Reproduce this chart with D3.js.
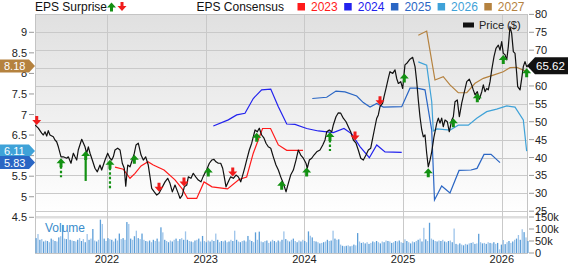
<!DOCTYPE html>
<html>
<head>
<meta charset="utf-8">
<script src="https://cdn.jsdelivr.net/npm/d3@7"></script>
<style>
  body { margin: 0; background: #fff; }
  svg { display: block; font-family: Arial, "Liberation Sans", sans-serif; }
</style>
</head>
<body>
<svg id="chart" width="568" height="264"></svg>
<script>
// ---- data (dates are decimal years) ----
const priceDates = [
  2021.271,2021.304,2021.338,2021.355,2021.372,2021.389,2021.405,2021.422,2021.456,2021.473,
  2021.490,2021.507,2021.534,2021.557,2021.592,2021.608,2021.635,2021.659,2021.676,2021.693,
  2021.709,2021.744,2021.777,2021.794,2021.811,2021.828,2021.851,2021.878,2021.902,2021.929,
  2021.946,2021.963,2021.980,2022.007,2022.030,2022.048,2022.064,2022.081,2022.108,2022.132,
  2022.155,2022.175,2022.190,2022.210,2022.233,2022.256,2022.277,2022.294,2022.317,2022.345,
  2022.368,2022.392,2022.418,2022.436,2022.453,2022.479,2022.504,2022.527,2022.554,2022.588,
  2022.615,2022.638,2022.662,2022.689,2022.716,2022.740,2022.763,2022.783,2022.808,2022.824,
  2022.851,2022.874,2022.899,2022.925,2022.952,2022.976,2023.009,2023.037,2023.061,2023.084,
  2023.104,2023.128,2023.152,2023.172,2023.185,2023.206,2023.229,2023.253,2023.280,2023.307,
  2023.330,2023.355,2023.375,2023.398,2023.415,2023.442,2023.466,2023.482,2023.500,2023.523,
  2023.543,2023.567,2023.591,2023.611,2023.634,2023.659,2023.685,2023.712,2023.736,2023.760,
  2023.786,2023.814,2023.837,2023.861,2023.888,2023.915,2023.938,2023.963,2023.989,2024.016,
  2024.029,2024.050,2024.074,2024.097,2024.125,2024.158,2024.186,2024.209,2024.226,2024.252,
  2024.277,2024.293,2024.320,2024.344,2024.368,2024.394,2024.422,2024.445,2024.469,2024.496,
  2024.523,2024.546,2024.571,2024.597,2024.624,2024.648,2024.672,2024.692,2024.715,2024.733,
  2024.749,2024.766,2024.793,2024.807,2024.827,2024.850,2024.867,2024.895,2024.918,2024.935,
  2024.952,2024.976,2024.996,2025.019,2025.043,2025.070,2025.097,2025.121,2025.138,2025.154,
  2025.171,2025.189,2025.205,2025.222,2025.239,2025.255,2025.273,2025.290,2025.313,2025.341,
  2025.357,2025.374,2025.391,2025.407,2025.425,2025.448,2025.468,2025.493,2025.509,2025.526,
  2025.549,2025.570,2025.594,2025.617,2025.645,2025.671,2025.695,2025.711,2025.729,2025.752,
  2025.772,2025.797,2025.813,2025.830,2025.847,2025.863,2025.881,2025.898,2025.921,2025.941,
  2025.965,2025.982,2025.999,2026.015,2026.033,2026.050,2026.066,2026.083,2026.100,2026.117,
  2026.134,2026.151,2026.161,2026.185,2026.202,2026.218,2026.235,2026.252,2026.265
];
const priceValues = [
  49.1,48.2,46.8,46.3,47.2,46.0,47.5,46.3,45.8,44.9,
  44.4,43.0,40.2,40.2,39.8,40.2,38.4,41.2,40.2,39.3,
  42.1,45.1,43.0,41.2,43.0,41.2,39.3,37.0,36.0,37.9,
  36.5,37.9,39.3,41.2,39.8,39.3,40.2,42.1,42.6,42.1,
  38.4,37.0,32.0,37.9,37.4,39.3,41.2,43.5,44.0,40.7,
  39.3,40.2,37.9,34.6,31.4,30.4,29.5,30.0,31.4,33.2,
  34.2,32.8,30.4,32.3,30.4,28.6,29.5,31.8,32.3,34.6,
  34.2,35.6,34.6,33.7,33.2,34.8,36.5,38.4,39.3,39.5,
  38.8,38.4,38.4,37.0,35.1,31.8,33.2,34.6,34.2,35.1,
  34.6,33.2,35.1,37.4,39.3,42.1,44.0,45.8,47.7,47.2,
  48.2,46.3,45.4,44.0,43.0,42.6,40.2,37.9,36.5,34.6,
  32.8,30.4,32.8,35.1,36.5,39.3,42.1,40.7,39.8,38.4,
  37.0,39.3,39.8,40.7,41.6,42.1,43.5,44.9,47.2,47.7,
  47.2,49.1,51.4,52.5,52.4,51.0,50.0,48.6,47.2,44.9,
  44.0,42.1,39.8,39.3,40.7,42.1,42.6,45.4,48.6,51.0,
  51.9,54.2,55.2,57.0,59.3,62.1,64.0,63.5,64.5,62.1,
  60.7,61.2,59.3,65.9,66.5,67.5,68.0,65.4,61.2,56.1,
  51.4,47.7,45.8,46.3,41.2,37.4,39.3,41.6,45.8,49.6,
  51.0,49.6,51.0,48.6,50.5,50.0,47.2,50.5,51.4,55.6,
  56.1,51.4,55.2,57.9,61.2,61.9,60.3,58.9,57.5,58.4,
  56.3,58.4,60.3,58.4,59.3,58.9,61.2,64.5,68.2,70.5,
  71.4,70.0,72.4,69.1,68.7,67.3,71.0,76.6,74.7,69.6,
  69.1,63.5,59.8,58.9,62.1,65.4,66.8,65.4,65.62
];

const eps2023Dates = [2022.081,2022.165,2022.233,2022.284,2022.345,2022.415,2022.469,2022.578,2022.689,2022.760,2022.816,2022.909,2022.983,2023.064,2023.221,2023.337,2023.415,2023.482,2023.576,2023.657,2023.736,2023.821,2023.986];
const eps2023 = [5.72,5.67,5.45,5.57,5.75,5.85,5.77,5.65,5.41,5.20,4.96,4.96,5.36,5.24,5.19,5.42,5.48,6.06,6.66,6.66,6.26,6.13,6.13];
const eps2024Dates = [2023.077,2023.229,2023.314,2023.398,2023.482,2023.567,2023.659,2023.736,2023.821,2023.905,2024.023,2024.141,2024.293,2024.401,2024.479,2024.563,2024.658,2024.733,2024.817,2024.986];
const eps2024 = [6.72,6.87,6.99,7.03,7.39,7.60,7.62,7.19,6.77,6.76,6.66,6.60,6.56,6.66,6.53,6.22,5.95,6.26,6.09,6.08];
const eps2025Dates = [2024.080,2024.226,2024.320,2024.411,2024.530,2024.597,2024.665,2024.733,2024.800,2024.986,2025.070,2025.141,2025.222,2025.290,2025.318,2025.391,2025.475,2025.567,2025.688,2025.749,2025.820,2025.891,2025.982];
const eps2025 = [7.39,7.42,7.57,7.55,7.45,7.29,7.18,7.27,7.18,7.19,7.64,7.64,7.60,6.62,4.92,5.26,5.09,5.64,5.65,5.69,6.03,6.03,5.83];
const eps2026Dates = [2025.154,2025.239,2025.290,2025.306,2025.344,2025.475,2025.559,2025.661,2025.746,2025.847,2025.948,2026.050,2026.134,2026.218,2026.252];
const eps2026 = [8.28,8.20,7.31,6.60,6.65,6.62,6.74,6.74,6.91,7.07,7.13,7.21,7.18,6.87,6.11];
const eps2027Dates = [2025.154,2025.239,2025.323,2025.407,2025.475,2025.559,2025.645,2025.729,2025.813,2025.914,2026.015,2026.083,2026.151,2026.218,2026.252];
const eps2027 = [8.93,9.03,7.84,7.92,7.72,7.53,7.53,7.76,7.88,7.96,8.04,8.14,8.15,8.08,8.04];

const consensusYears = ['2023', '2024', '2025', '2026', '2027'];
const consensusColors = ['#ff1a1a', '#2222ee', '#2a66c4', '#3fa2d8', '#b5823f'];
const lastEps = [8.18, 6.11, 5.83];
const lastEpsColors = ['#b5823f', '#3fa2d8', '#2a66c4'];

// earnings surprises: direction (+1 beat / -1 miss), size of the beat, stem style
const surpriseDates = [2021.288,2021.534,2021.784,2022.030,2022.277,2022.527,2022.780,2023.026,2023.274,2023.517,2023.770,2024.023,2024.259,2024.513,2024.766,2025.012,2025.255,2025.509,2025.752,2026.015,2026.252];
const surpriseDir = [-1,1,1,1,1,-1,-1,1,-1,1,1,1,1,-1,-1,1,1,1,1,1,1];
const surpriseSize = [0,14,25,25,0,0,0,0,0,0,0,0,14,0,0,0,0,0,0,0,0];
const surpriseStem = ['','dash','solid','dash','','','','','','','','','dash','','','','','','','',''];

const volumeStart = 2021.275;
const volumes = [
  62,79,55,58,48,52,50,45,60,55, 50,48,65,70,117,60,58,89,55,52,
  50,48,55,62,50,58,45,79,55,60, 100,52,48,55,139,121,60,50,62,58,
  55,48,60,52,81,58,62,55,129,121, 60,55,70,93,62,58,81,55,50,48,
  52,45,55,50,60,48,107,86,55,50, 45,52,48,55,60,50,58,62,55,90,
  55,50,48,45,52,55,60,48,71,50, 45,52,48,55,50,81,55,45,50,48,
  52,45,48,55,50,93,55,48,45,50, 52,48,71,55,50,45,86,55,89,48,
  45,50,52,42,48,55,50,45,52,48, 55,90,58,52,48,55,60,50,45,52,
  48,55,50,45,90,72,65,50,48,45, 40,42,45,48,55,50,52,93,60,55,
  57,35,30,28,30,32,28,30,35,32, 83,48,42,45,40,45,38,42,48,45,
  50,45,40,48,45,52,50,48,42,45, 50,48,52,45,42,57,50,45,40,48,
  45,50,55,60,48,105,57,50,126,60, 55,50,48,52,50,55,48,45,50,52,
  45,102,38,35,40,35,32,38,35,40, 42,45,38,40,80,45,40,42,38,45,
  42,40,45,38,42,15,35,54,37,45, 50,42,48,55,60,75,55,99,87,65,
  50
];

const yearTicks = [2022, 2023, 2024, 2025, 2026];
const priceTicks = [25, 30, 35, 40, 45, 50, 55, 60, 65, 70, 75, 80];
const epsTicks = [4.5, 5, 5.5, 6, 6.5, 7, 7.5, 8, 8.5, 9];
const volumeTicks = [0, 50000, 100000, 150000];
const lastPrice = 65.62;

// ---- layout ----
const W = 568;
const pLeft = 35, pRight = 528, pTop = 14;
const priceBottom = 216, volTop = 218.5, volBottom = 253;
const green = '#139113', red = '#f01c1c';

const svg = d3.select('#chart');

const x = d3.scaleLinear().domain([2021.2705, 2026.2655]).range([pLeft, pRight]);
const yPrice = d3.scaleLinear().domain([25, 80]).range([211.2, 14.4]);
const yEps = d3.scaleLinear().domain([4.5, 9]).range([217.3, 32.3]);
const yVol = d3.scaleLinear().domain([0, 150000]).range([volBottom, 217]);

const defs = svg.append('defs');
const grad = defs.append('linearGradient').attr('id', 'bg')
  .attr('x1', 0).attr('y1', 0).attr('x2', 0).attr('y2', 1);
grad.append('stop').attr('offset', '0%').attr('stop-color', '#e0e0e0');
grad.append('stop').attr('offset', '100%').attr('stop-color', '#ffffff');
defs.append('clipPath').attr('id', 'clip')
  .append('rect').attr('x', pLeft).attr('y', pTop).attr('width', pRight - pLeft).attr('height', priceBottom - pTop);

// backgrounds
svg.append('rect').attr('x', pLeft).attr('y', pTop).attr('width', pRight - pLeft)
  .attr('height', priceBottom - pTop).attr('fill', 'url(#bg)');
svg.append('rect').attr('x', pLeft).attr('y', priceBottom).attr('width', pRight - pLeft)
  .attr('height', volTop - priceBottom).attr('fill', '#dedede');

// grid
svg.append('g').selectAll('line').data(priceTicks).join('line')
  .attr('x1', pLeft).attr('x2', pRight)
  .attr('y1', d => Math.round(yPrice(d)) + 0.5).attr('y2', d => Math.round(yPrice(d)) + 0.5)
  .attr('stroke', '#c9c9c9');
svg.append('g').selectAll('line').data(yearTicks).join('line')
  .attr('x1', d => Math.round(x(d)) + 0.5).attr('x2', d => Math.round(x(d)) + 0.5)
  .attr('y1', pTop).attr('y2', volBottom)
  .attr('stroke', '#c9c9c9');
svg.append('rect').attr('x', pLeft + 0.5).attr('y', pTop + 0.5)
  .attr('width', pRight - pLeft - 1).attr('height', volBottom - pTop)
  .attr('fill', 'none').attr('stroke', '#c4c4c4');

// volume bars
svg.append('g').selectAll('rect').data(volumes).join('rect')
  .attr('x', (d, i) => x(volumeStart + i / 52.18))
  .attr('y', d => yVol(d * 1000))
  .attr('width', 1.3)
  .attr('height', d => volBottom - yVol(d * 1000))
  .attr('fill', (d, i) => i % 2 ? '#9dc4ea' : '#5c9ed8');

svg.append('text').attr('x', 45).attr('y', 232).attr('font-size', 12)
  .attr('fill', '#3b8dcc').text('Volume');

// consensus lines
const plot = svg.append('g').attr('clip-path', 'url(#clip)');
const epsSeries = [
  [eps2023Dates, eps2023], [eps2024Dates, eps2024], [eps2025Dates, eps2025],
  [eps2026Dates, eps2026], [eps2027Dates, eps2027]
];
epsSeries.forEach(([dates, vals], k) => {
  plot.append('path')
    .datum(dates.map((t, i) => [t, vals[i]]))
    .attr('d', d3.line().x(d => x(d[0])).y(d => yEps(d[1])))
    .attr('fill', 'none')
    .attr('stroke', consensusColors[k])
    .attr('stroke-width', 1.2);
});

// price line
plot.append('path')
  .datum(priceDates.map((t, i) => [t, priceValues[i]]))
  .attr('d', d3.line().x(d => x(d[0])).y(d => yPrice(d[1])))
  .attr('fill', 'none')
  .attr('stroke', '#111')
  .attr('stroke-width', 1.2)
  .attr('stroke-linejoin', 'round');

// surprise arrows sit on the price line
const bisect = d3.bisector(d => d).left;
function priceAt(t) {
  const i = Math.max(1, Math.min(priceDates.length - 1, bisect(priceDates, t)));
  const t0 = priceDates[i - 1], t1 = priceDates[i];
  const k = (t - t0) / (t1 - t0);
  return priceValues[i - 1] * (1 - k) + priceValues[i] * k;
}
const stemLen = d3.scaleLinear().domain([10, 25]).range([6, 21]);

function arrowPath(cx, ty, dir) {
  // dir 1: tip at ty pointing up; dir -1: tip at ty pointing down
  const s = dir;
  return `M${cx},${ty}L${cx + 4.5},${ty + 5 * s}L${cx + 1.5},${ty + 5 * s}L${cx + 1.5},${ty + 9 * s}` +
    `L${cx - 1.5},${ty + 9 * s}L${cx - 1.5},${ty + 5 * s}L${cx - 4.5},${ty + 5 * s}Z`;
}

const arrows = svg.append('g');
surpriseDates.forEach((t, i) => {
  const cx = x(t);
  const py = yPrice(priceAt(t));
  const up = surpriseDir[i] > 0;
  const ty = up ? py + 1.5 : py - 1.5;
  if (surpriseStem[i]) {
    arrows.append('line')
      .attr('x1', cx).attr('x2', cx)
      .attr('y1', ty + 8).attr('y2', ty + 9 + stemLen(surpriseSize[i]))
      .attr('stroke', green).attr('stroke-width', 2.2)
      .attr('stroke-dasharray', surpriseStem[i] === 'dash' ? '2.5,2' : null);
  }
  arrows.append('path').attr('d', arrowPath(cx, ty, up ? 1 : -1))
    .attr('fill', up ? green : red);
});

// right price axis
const axisR = svg.append('g');
axisR.selectAll('line').data(priceTicks).join('line')
  .attr('x1', pRight + 1).attr('x2', pRight + 6)
  .attr('y1', d => yPrice(d)).attr('y2', d => yPrice(d))
  .attr('stroke', '#999');
axisR.selectAll('text').data(priceTicks).join('text')
  .attr('x', pRight + 7).attr('y', d => yPrice(d) + 4)
  .attr('font-size', 11).attr('fill', '#222')
  .text(d => d);

// volume axis
const axisV = svg.append('g');
axisV.selectAll('line').data(volumeTicks).join('line')
  .attr('x1', pRight + 1).attr('x2', pRight + 6)
  .attr('y1', d => yVol(d)).attr('y2', d => yVol(d))
  .attr('stroke', '#999');
axisV.selectAll('text').data(volumeTicks).join('text')
  .attr('x', pRight + 7).attr('y', d => yVol(d) + 4)
  .attr('font-size', 11).attr('fill', '#222')
  .text(d => d === 0 ? '0' : (d / 1000) + 'k');

// left EPS axis
const axisL = svg.append('g');
axisL.selectAll('line').data(epsTicks).join('line')
  .attr('x1', pLeft - 6).attr('x2', pLeft - 1)
  .attr('y1', d => yEps(d)).attr('y2', d => yEps(d))
  .attr('stroke', '#999');
axisL.selectAll('text').data(epsTicks).join('text')
  .attr('x', pLeft - 8).attr('y', d => yEps(d) + 4)
  .attr('text-anchor', 'end')
  .attr('font-size', 11).attr('fill', '#222')
  .text(d => d);

// year labels
svg.append('g').selectAll('text').data(yearTicks).join('text')
  .attr('x', d => x(d)).attr('y', 263)
  .attr('text-anchor', 'middle')
  .attr('font-size', 11).attr('fill', '#222')
  .text(d => d);

// last EPS tags on the left
const tags = svg.append('g');
lastEps.forEach((v, i) => {
  const cy = yEps(v);
  tags.append('path')
    .attr('d', `M0,${cy - 6.5}L29,${cy - 6.5}L35,${cy}L29,${cy + 6.5}L0,${cy + 6.5}Z`)
    .attr('fill', lastEpsColors[i]);
  tags.append('text').attr('x', 4).attr('y', cy + 4)
    .attr('font-size', 11).attr('fill', '#fff').text(v.toFixed(2));
});

// last price tag on the right
const lastY = yPrice(lastPrice);
svg.append('path')
  .attr('d', `M${pRight - 1},${lastY}L${pRight + 7},${lastY - 8.5}L${W},${lastY - 8.5}L${W},${lastY + 8.5}L${pRight + 7},${lastY + 8.5}Z`)
  .attr('fill', '#111');
svg.append('text').attr('x', pRight + 8).attr('y', lastY + 4)
  .attr('font-size', 11.5).attr('fill', '#fff').text(lastPrice.toFixed(2));

// price legend
svg.append('rect').attr('x', 463).attr('y', 22.5).attr('width', 11).attr('height', 5).attr('fill', '#111');
svg.append('text').attr('x', 479).attr('y', 29).attr('font-size', 11).attr('fill', '#222').text('Price ($)');

// header: EPS surprise
svg.append('text').attr('x', 35).attr('y', 11).attr('font-size', 12).attr('fill', '#111').text('EPS Surprise');
svg.append('path').attr('d', arrowPath(111.5, 2.5, 1)).attr('fill', green);
svg.append('path').attr('d', arrowPath(122, 11, -1)).attr('fill', red);

// header: EPS consensus legend
svg.append('text').attr('x', 196.5).attr('y', 11).attr('font-size', 12).attr('fill', '#111').text('EPS Consensus');
let lx = 297.5;
consensusYears.forEach((yr, i) => {
  svg.append('rect').attr('x', lx).attr('y', 3).attr('width', 7.5).attr('height', 7.5)
    .attr('fill', consensusColors[i]);
  const t = svg.append('text').attr('x', lx + 13.5).attr('y', 11)
    .attr('font-size', 12).attr('fill', consensusColors[i]).text(yr);
  lx += 13.5 + t.node().getComputedTextLength() + 6.5;
});
</script>
</body>
</html>
